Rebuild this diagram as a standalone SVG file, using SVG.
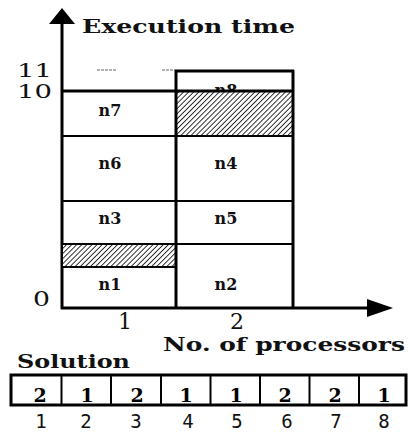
<svg xmlns="http://www.w3.org/2000/svg" width="412" height="432" viewBox="0 0 412 432">
<style>
.ax{stroke:#000;stroke-width:3;fill:none}
.ln{stroke:#000;stroke-width:2;fill:none}
.lbl{font-family:"DejaVu Serif","Liberation Serif",serif;font-weight:bold;font-size:16px;text-anchor:middle;fill:#111}
.title{font-family:"DejaVu Serif","Liberation Serif",serif;font-weight:bold;fill:#111}
.num{font-family:"DejaVu Serif","Liberation Serif",serif;fill:#111}
.cell{font-family:"DejaVu Serif","Liberation Serif",serif;font-weight:bold;font-size:19px;text-anchor:middle;fill:#000}
.idx{font-family:"DejaVu Sans Mono","Liberation Mono",monospace;font-size:19px;text-anchor:middle;fill:#111}
.hatch{fill:url(#h);stroke:#000;stroke-width:2}
</style>
<defs>
<pattern id="h" width="3.6" height="3.6" patternUnits="userSpaceOnUse" patternTransform="rotate(45)">
<rect width="3.6" height="3.6" fill="#fff"/>
<line x1="0" y1="0" x2="0" y2="3.6" stroke="#111" stroke-width="1.7"/>
</pattern>
</defs>
<rect width="412" height="432" fill="#fff"/>

<g id="axes">
<line class="ax" x1="62" y1="22" x2="62" y2="309"/>
<polygon points="62,8 49,24 75,24" fill="#000"/>
<line class="ax" x1="61" y1="308" x2="372" y2="308"/>
<polygon points="393,308 367,299 367,317" fill="#000"/>
<text class="title" x="82" y="33" style="font-size:19px" textLength="213" lengthAdjust="spacingAndGlyphs">Execution time</text>
<text class="num" x="17" y="77" style="font-size:19px" textLength="35" lengthAdjust="spacingAndGlyphs">11</text>
<text class="num" x="17" y="98" style="font-size:19px" textLength="35" lengthAdjust="spacingAndGlyphs">10</text>
<text class="num" x="33" y="306" style="font-size:20px" textLength="17" lengthAdjust="spacingAndGlyphs">0</text>
<text class="num" x="125" y="329" text-anchor="middle" style="font-size:22px">1</text>
<text class="num" x="237" y="329" text-anchor="middle" style="font-size:22px">2</text>
<text class="title" x="163" y="351" style="font-size:18px" textLength="242" lengthAdjust="spacingAndGlyphs">No. of processors</text>
<line x1="97" y1="70" x2="117" y2="70" stroke="#666" stroke-width="1" stroke-dasharray="3,1"/>
<line x1="162" y1="70" x2="175" y2="70" stroke="#666" stroke-width="1" stroke-dasharray="3,1"/>
</g>

<g id="processor1">
<g id="n1"><rect class="ln" x="62" y="267" width="114" height="41"/><text class="lbl" x="110" y="290">n1</text></g>
<g id="idle1"><rect class="hatch" x="62" y="244" width="114" height="23"/></g>
<g id="n3"><rect class="ln" x="62" y="201" width="114" height="43"/><text class="lbl" x="110" y="224">n3</text></g>
<g id="n6"><rect class="ln" x="62" y="136" width="114" height="65"/><text class="lbl" x="110" y="169">n6</text></g>
<g id="n7"><rect class="ln" x="62" y="91" width="114" height="45"/><text class="lbl" x="110" y="116">n7</text></g>
</g>

<g id="processor2">
<g id="n2"><rect class="ln" x="176" y="244" width="117" height="64"/><text class="lbl" x="226" y="290">n2</text></g>
<g id="n5"><rect class="ln" x="176" y="201" width="117" height="43"/><text class="lbl" x="226" y="224">n5</text></g>
<g id="n4"><rect class="ln" x="176" y="136" width="117" height="65"/><text class="lbl" x="226" y="169">n4</text></g>
<g id="n8"><rect class="ln" x="176" y="71" width="117" height="20"/><text class="lbl" x="226" y="96">n8</text></g>
<g id="idle2"><rect class="hatch" x="176" y="91" width="117" height="45"/></g>
</g>

<g id="frame">
<line class="ax" x1="176" y1="70" x2="176" y2="309"/>
<line class="ax" x1="293" y1="70" x2="293" y2="309"/>
<line class="ax" x1="175" y1="71" x2="294" y2="71"/>
<line class="ax" x1="62" y1="91" x2="293" y2="91"/>
</g>

<g id="solution">
<text class="title" x="17" y="368" style="font-size:18px" textLength="113" lengthAdjust="spacingAndGlyphs">Solution</text>
<rect x="11" y="375" width="395" height="30" fill="none" stroke="#000" stroke-width="3"/>
<g class="ln">
<line x1="61.5" y1="375" x2="61.5" y2="405"/>
<line x1="111" y1="375" x2="111" y2="405"/>
<line x1="161" y1="375" x2="161" y2="405"/>
<line x1="210.5" y1="375" x2="210.5" y2="405"/>
<line x1="260" y1="375" x2="260" y2="405"/>
<line x1="309.5" y1="375" x2="309.5" y2="405"/>
<line x1="359" y1="375" x2="359" y2="405"/>
</g>
<g id="s1"><text class="cell" x="40" y="402">2</text><text class="idx" x="41" y="428">1</text></g>
<g id="s2"><text class="cell" x="87" y="402">1</text><text class="idx" x="86" y="428">2</text></g>
<g id="s3"><text class="cell" x="137" y="402">2</text><text class="idx" x="136" y="428">3</text></g>
<g id="s4"><text class="cell" x="186" y="402">1</text><text class="idx" x="188" y="428">4</text></g>
<g id="s5"><text class="cell" x="236" y="402">1</text><text class="idx" x="237" y="428">5</text></g>
<g id="s6"><text class="cell" x="285" y="402">2</text><text class="idx" x="287" y="428">6</text></g>
<g id="s7"><text class="cell" x="335" y="402">2</text><text class="idx" x="336" y="428">7</text></g>
<g id="s8"><text class="cell" x="384" y="402">1</text><text class="idx" x="384" y="428">8</text></g>
</g>
</svg>
